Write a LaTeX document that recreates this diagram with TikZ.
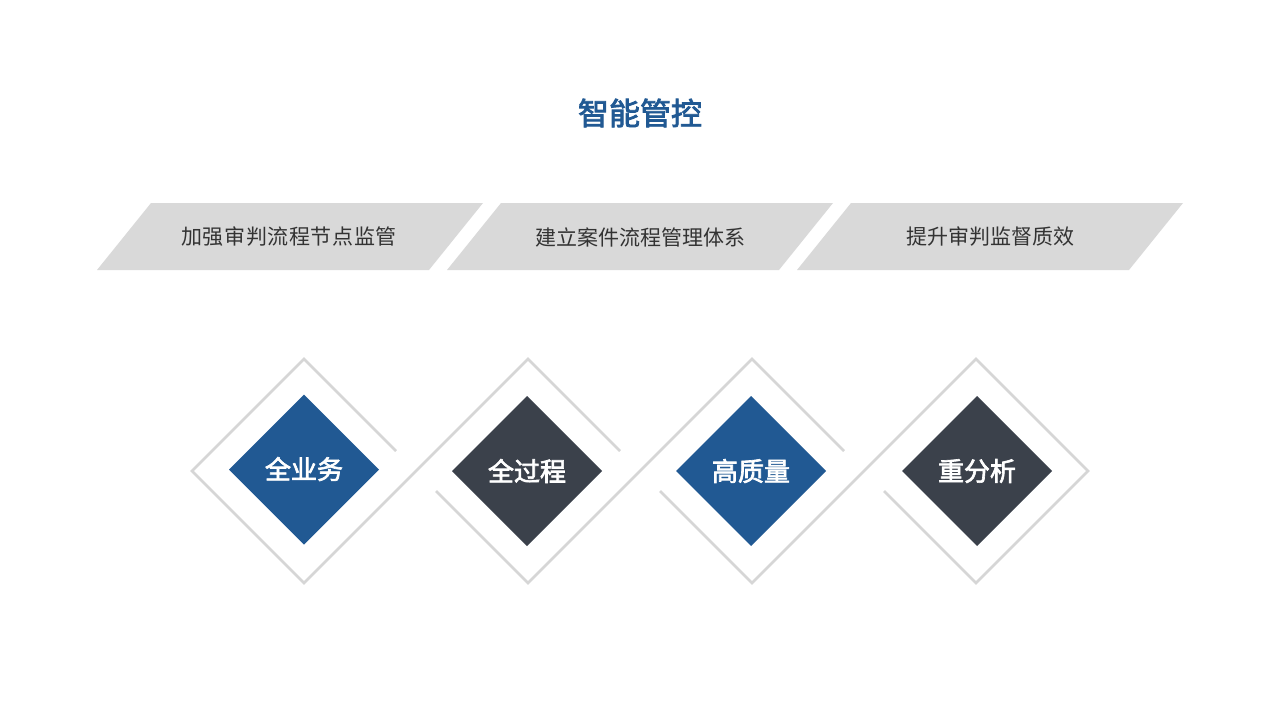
\documentclass[tikz,border=0pt]{standalone}
\usepackage{fontspec}
\newfontfamily\cjk{Noto Sans CJK SC}
\newfontfamily\cjkwide[LetterSpace=3]{Noto Sans CJK SC}
\newfontfamily\cjkmed[FakeBold=2.5]{Noto Sans CJK SC}
\definecolor{mblue}{HTML}{215993}
\definecolor{mdark}{HTML}{3B414B}
\definecolor{mgray}{HTML}{D9D9D9}
\definecolor{mline}{HTML}{D6D6D6}
\definecolor{mtext}{HTML}{333333}
\begin{document}
\begin{tikzpicture}[x=1pt,y=-1pt,
  bartext/.style={font=\cjk\fontsize{21}{25}\selectfont, text=mtext, inner sep=0pt},
  dtext/.style={font=\cjkmed\fontsize{26}{30}\selectfont, text=white, inner sep=0pt},
  outl/.style={draw=mline, line width=2.6pt, line join=miter}]
\useasboundingbox[fill=white] (0,0) rectangle (1280,720);
% title
\node[font=\cjkmed\fontsize{31}{36}\selectfont, text=mblue, inner sep=0pt] (title) at (640,113) {智能管控};
% parallelograms
\foreach \i in {0,1,2}{
  \fill[mgray] ({151+350*\i},203) -- ({483+350*\i},203) -- ({429+350*\i},270) -- ({97+350*\i},270) -- cycle;
}
\node[bartext, font=\cjkwide\fontsize{21}{25}\selectfont] (b1) at (289,237) {加强审判流程节点监管};
\node[bartext] (b2) at (640,237) {建立案件流程管理体系};
\node[bartext] (b3) at (990,237) {提升审判监督质效};
% outlines
\draw[outl] (396,451) -- (304,359) -- (192,471) -- (304,583) -- (528,359) -- (620,451);
\draw[outl] (436,491) -- (528,583) -- (752,359) -- (844,451);
\draw[outl] (660,491) -- (752,583) -- (976,359) -- (1088,471) -- (976,583) -- (884,491);
% inner diamonds
\fill[mblue] (304,394.5) -- (379,469.5) -- (304,544.5) -- (229,469.5) -- cycle;
\fill[mdark] (527,396) -- (602,471) -- (527,546) -- (452,471) -- cycle;
\fill[mblue] (751,396) -- (826,471) -- (751,546) -- (676,471) -- cycle;
\fill[mdark] (977,396) -- (1052,471) -- (977,546) -- (902,471) -- cycle;
\node[dtext] (d1) at (304,469) {全业务};
\node[dtext] (d2) at (527,471) {全过程};
\node[dtext] (d3) at (751,471) {高质量};
\node[dtext] (d4) at (977,471) {重分析};
\end{tikzpicture}
\end{document}
